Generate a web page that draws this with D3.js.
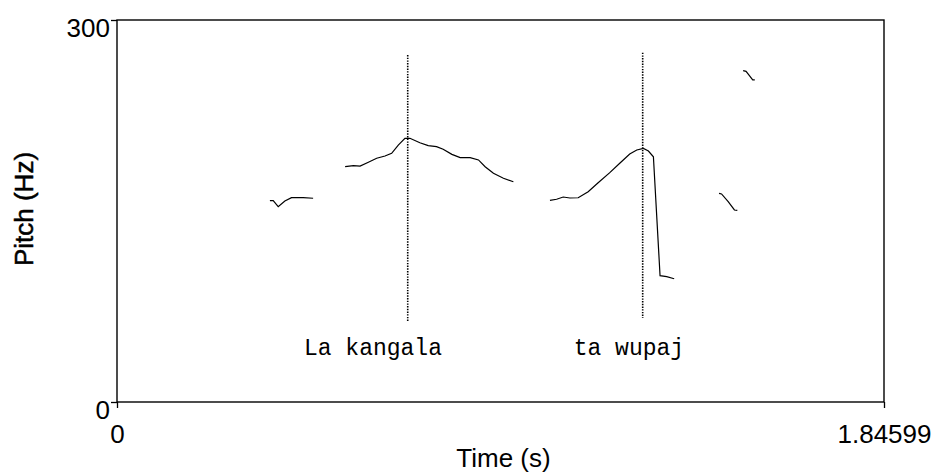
<!DOCTYPE html>
<html lang="en">
<head>
<meta charset="UTF-8">
<title>Pitch contour</title>
<script src="https://d3js.org/d3.v7.min.js"></script>
<style>
  body { margin: 0; background: #fff; }
  text { font-family: Arial, "Liberation Sans", sans-serif; fill: #000; }
  .tick line { stroke: #000; stroke-width: 1.3px; }
  .contour { fill: none; stroke: #000; stroke-width: 1.2px; }
  .mark { stroke: #000; stroke-width: 1.6px; stroke-dasharray: 1.4 1.3; }
  .label { font-family: "Courier New", "Liberation Mono", monospace; font-size: 23px; }
</style>
</head>
<body>
<div id="chart"></div>
<script>
var width = 938, height = 476;
var margin = {top: 20, right: 54, bottom: 74, left: 117};

var timeDomain = [0, 1.84599];
var pitchDomain = [0, 300];

// voiced stretches of the pitch track, [time (s), pitch (Hz)]
var seg1 = [[0.368, 158.1], [0.376, 158.1], [0.388, 153.4], [0.404, 157.9], [0.420, 160.5], [0.448, 160.5], [0.472, 160.0]];
var seg2 = [[0.549, 184.8], [0.569, 185.6], [0.585, 185.3], [0.605, 188.3], [0.625, 191.4], [0.645, 193.2], [0.661, 195.3],
            [0.677, 201.8], [0.693, 207.1], [0.705, 207.1], [0.729, 203.6], [0.749, 201.3], [0.769, 200.5], [0.785, 198.5],
            [0.806, 194.5], [0.826, 191.9], [0.850, 191.9], [0.870, 190.1], [0.886, 184.8], [0.906, 179.6], [0.930, 175.7],
            [0.954, 173.0]];
var seg3 = [[1.042, 158.4], [1.058, 159.2], [1.074, 161.0], [1.090, 160.2], [1.110, 160.4], [1.134, 165.2], [1.158, 172.2],
            [1.186, 180.1], [1.210, 187.5], [1.234, 194.8], [1.251, 197.9], [1.267, 199.2], [1.279, 197.1], [1.291, 192.6],
            [1.307, 99.2], [1.323, 98.4], [1.341, 96.8]];
var seg4 = [[1.449, 163.9], [1.455, 163.4], [1.471, 157.3], [1.486, 150.8], [1.493, 150.5]];
var seg5 = [[1.507, 260.2], [1.514, 259.7], [1.523, 256.0], [1.530, 252.9], [1.535, 252.9]];

// dotted boundary lines
var markTime = [0.6997, 1.2652];
var markTop = [272.5, 274.3];
var markBottom = [63.6, 66.0];

// word labels
var labelText = ["La kangala", "ta wupaj"];
var labelTime = [0.616, 1.232];
var labelPitch = 37;

var svg = d3.select("#chart").append("svg")
    .attr("width", width)
    .attr("height", height);

var x = d3.scaleLinear().domain(timeDomain).range([margin.left, width - margin.right]);
var y = d3.scaleLinear().domain(pitchDomain).range([height - margin.bottom, margin.top]);

var xAxis = svg.append("g")
    .attr("transform", "translate(0," + y(0) + ")")
    .call(d3.axisBottom(x).tickValues(timeDomain).tickFormat(String).tickSize(6).tickPadding(17));
xAxis.select(".domain").remove();
xAxis.selectAll("text").attr("font-size", 26).attr("font-family", null);

var yAxis = svg.append("g")
    .attr("transform", "translate(" + x(0) + ",0)")
    .call(d3.axisLeft(y).tickValues(pitchDomain).tickFormat(d3.format("d")).tickSize(6).tickPadding(1));
yAxis.select(".domain").remove();
yAxis.selectAll("text").attr("font-size", 26).attr("font-family", null).attr("dy", "0.64em");

// frame
svg.append("rect")
    .attr("x", x(0))
    .attr("y", y(300))
    .attr("width", x(timeDomain[1]) - x(0))
    .attr("height", y(0) - y(300))
    .attr("fill", "none")
    .attr("stroke", "#000")
    .attr("stroke-width", 1.4);

var line = d3.line()
    .x(function(d) { return x(d[0]); })
    .y(function(d) { return y(d[1]); });

svg.selectAll(".contour")
    .data([seg1, seg2, seg3, seg4, seg5])
  .enter().append("path")
    .attr("class", "contour")
    .attr("d", line);

svg.selectAll(".mark")
    .data(markTime)
  .enter().append("line")
    .attr("class", "mark")
    .attr("x1", function(d) { return x(d); })
    .attr("x2", function(d) { return x(d); })
    .attr("y1", function(d, i) { return y(markTop[i]); })
    .attr("y2", function(d, i) { return y(markBottom[i]); });

svg.selectAll(".label")
    .data(labelText)
  .enter().append("text")
    .attr("class", "label")
    .attr("x", function(d, i) { return x(labelTime[i]); })
    .attr("y", y(labelPitch))
    .attr("text-anchor", "middle")
    .text(function(d) { return d; });

svg.append("text")
    .attr("x", (x(0) + x(timeDomain[1])) / 2 + 3)
    .attr("y", 467)
    .attr("text-anchor", "middle")
    .attr("font-size", 26)
    .text("Time (s)");

svg.append("text")
    .attr("transform", "translate(33," + (y(150) - 2) + ") rotate(-90)")
    .attr("text-anchor", "middle")
    .attr("font-size", 26)
    .attr("stroke", "#000")
    .attr("stroke-width", 0.5)
    .text("Pitch (Hz)");
</script>
</body>
</html>
